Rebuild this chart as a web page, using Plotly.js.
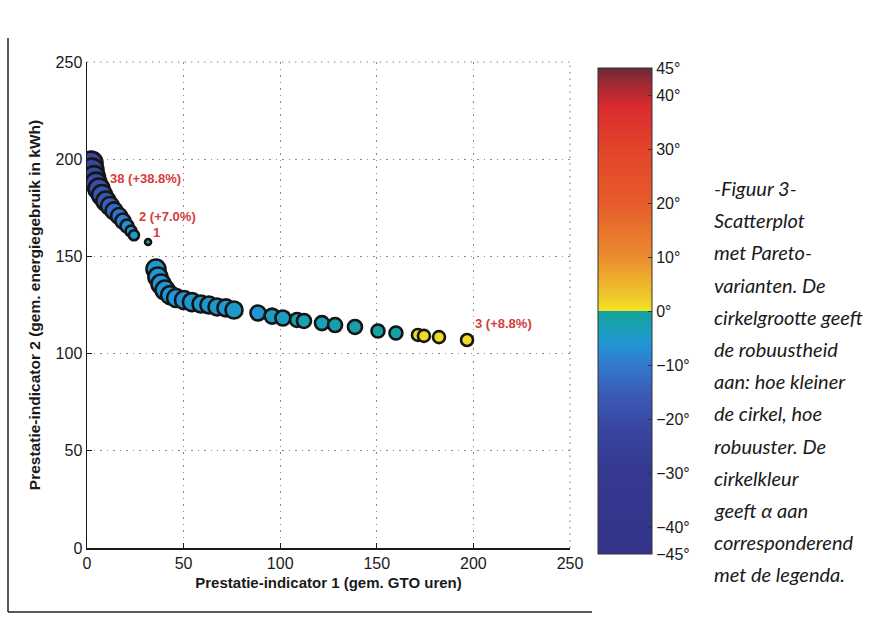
<!DOCTYPE html>
<html>
<head>
<meta charset="utf-8">
<script src="https://cdn.plot.ly/plotly-3.0.1.min.js"></script>
<style>
html,body{margin:0;padding:0;background:#fff;}
#chart{width:874px;height:620px;}
</style>
</head>
<body>
<div id="chart"></div>
<script>
// Prestatie-indicator 1 (gem. GTO uren)
const gto = [2.1, 2.6, 3.6, 4.7, 6.2, 7.8, 9.8, 11.9, 14.0, 16.6, 18.6, 20.7, 22.8, 24.3,
  31.6,
  35.7, 36.7, 38.3, 40.4, 43.0, 46.1, 50.2, 54.3, 59.0, 63.1, 67.3, 71.9, 76.1,
  88.5, 95.8, 101.4, 108.7, 112.3, 121.6, 128.4, 138.7, 150.6, 159.9,
  171.3, 174.4, 182.2, 196.7];
// Prestatie-indicator 2 (gem. energiegebruik in kWh)
const energie = [198.0, 194.4, 190.8, 187.7, 184.7, 181.6, 178.5, 175.9, 173.4, 170.8, 168.2, 165.6, 163.0, 160.9,
  157.4,
  143.5, 139.4, 135.8, 132.7, 130.1, 128.6, 127.6, 126.5, 125.5, 125.0, 124.0, 123.5, 122.4,
  120.9, 119.3, 118.3, 117.3, 116.8, 115.7, 114.7, 113.7, 111.6, 110.6,
  109.6, 109.1, 108.5, 107.0];
// alpha (graden)
const alpha = [-22, -22, -21, -20, -19, -18, -17, -15, -13, -11, -9, -7, -6, -5,
  -2,
  -6, -6, -6, -6, -6, -6, -6, -5, -5, -5, -5, -5, -5,
  -6, -4, -4, -3, -3, -3, -2, -2, -1, -1,
  1, 1, 1, 1];
// robuustheid (cirkelgrootte)
const robuustheid = [23, 23, 22, 21, 21, 20, 19, 18, 17, 16, 15, 13, 11, 10,
  6,
  19, 19, 19, 19, 18, 18, 18, 18, 17, 17, 17, 17, 17,
  15, 15, 15, 14, 14, 14, 14, 14, 13, 13,
  12, 12, 12, 12];

const xTicks = [0, 50, 100, 150, 200, 250];
const yTicks = [0, 50, 100, 150, 200, 250];
const cbTicks = [-45, -40, -30, -20, -10, 0, 10, 20, 30, 40, 45];
const cbTickText = ['−45°', '−40°', '−30°', '−20°', '−10°', '0°', '10°', '20°', '30°', '40°', '45°'];

const labelTexts = ['38 (+38.8%)', '2 (+7.0%)', '1', '3 (+8.8%)'];
const caption = ['-Figuur 3-', 'Scatterplot', 'met Pareto-', 'varianten. De', 'cirkelgrootte geeft',
  'de robuustheid', 'aan: hoe kleiner', 'de cirkel, hoe', 'robuuster. De', 'cirkelkleur',
  'geeft α aan', 'corresponderend', 'met de legenda.'];

// colormap stops (alpha in degrees -> colour)
const cmapAlpha = [-45, -30, -22, -15, -10, -6, -3, -0.01, 0, 3, 10, 20, 30, 38, 42, 45];
const cmapColor = ['#33348a', '#35398f', '#3846a0', '#3b5cb8', '#3279cf', '#2196d4', '#18a0b6', '#14a198',
  '#f2e422', '#f0c52c', '#ea8c2e', '#e65b2b', '#e2452a', '#d82a30', '#a02a33', '#6b2a38'];
const colorscale = cmapAlpha.map((a, i) => [(a + 45) / 90, cmapColor[i]]);

const W = 874, H = 620;
const mL = 87, mR = W - 570, mT = 62, mB = H - 548;
const pw = W - mL - mR, ph = H - mT - mB;
const px2x = p => (p - mL) / pw;
const py2y = p => (H - mB - p) / ph;

const trace = {
  type: 'scatter',
  mode: 'markers',
  x: gto,
  y: energie,
  hoverinfo: 'x+y',
  marker: {
    size: robuustheid,
    color: alpha,
    cmin: -45,
    cmax: 45,
    colorscale: colorscale,
    line: {color: '#151515', width: 2.6},
    opacity: 1,
    colorbar: {
      x: px2x(598), xanchor: 'left',
      y: py2y(311), yanchor: 'middle',
      lenmode: 'pixels', len: 486,
      thicknessmode: 'pixels', thickness: 54,
      xpad: 0, ypad: 0,
      outlinewidth: 1, outlinecolor: '#333',
      borderwidth: 0,
      tickmode: 'array', tickvals: cbTicks, ticktext: cbTickText,
      ticks: 'inside', ticklen: 4, tickcolor: '#333', tickwidth: 1,
      tickfont: {family: 'Liberation Sans, Arial, sans-serif', size: 16, color: '#1a1a1a'}
    }
  },
  showlegend: false
};

const annotations = [
  {x: 10.9, y: 190.3, text: labelTexts[0], xanchor: 'left'},
  {x: 25.9, y: 170.3, text: labelTexts[1], xanchor: 'left'},
  {x: 36.2, y: 162.4, text: labelTexts[2], xanchor: 'center'},
  {x: 199.8, y: 115.7, text: labelTexts[3], xanchor: 'left'}
].map(a => Object.assign({
  xref: 'x', yref: 'y', yanchor: 'middle', showarrow: false,
  font: {family: 'Liberation Sans, Arial, sans-serif', size: 13, color: '#d43c3c', weight: 'bold'}
}, a));

caption.forEach((t, i) => {
  annotations.push({
    xref: 'paper', yref: 'paper', x: px2x(712), y: py2y(188 + i * 32.2), text: '<i>' + t + '</i>',
    showarrow: false, xanchor: 'left', yanchor: 'middle',
    font: {family: 'Lato, Noto Sans, sans-serif', size: 20, color: '#1a1a1a', style: 'italic'}
  });
});

const gridStyle = {gridcolor: '#8a8a8a', griddash: '1.5px,5px', gridwidth: 1.2};

const layout = {
  width: W, height: H,
  margin: {l: mL, r: mR, t: mT, b: mB, pad: 0},
  paper_bgcolor: '#ffffff',
  plot_bgcolor: '#ffffff',
  font: {family: 'Liberation Sans, Arial, sans-serif', color: '#1a1a1a'},
  xaxis: Object.assign({
    range: [0, 250], tickmode: 'array', tickvals: xTicks,
    showline: true, linecolor: '#1a1a1a', linewidth: 1.5, zeroline: false,
    ticks: 'inside', ticklen: 5, tickcolor: '#1a1a1a',
    tickfont: {size: 16, color: '#1a1a1a'},
    title: {text: 'Prestatie-indicator 1 (gem. GTO uren)', standoff: 7,
      font: {size: 15, weight: 'bold', color: '#1a1a1a'}},
    automargin: false
  }, gridStyle),
  yaxis: Object.assign({
    range: [0, 250], tickmode: 'array', tickvals: yTicks,
    showline: true, linecolor: '#1a1a1a', linewidth: 1.5, zeroline: false,
    ticks: 'inside', ticklen: 5, tickcolor: '#1a1a1a',
    tickfont: {size: 16, color: '#1a1a1a'},
    title: {text: 'Prestatie-indicator 2 (gem. energiegebruik in kWh)', standoff: 11,
      font: {size: 15.5, weight: 'bold', color: '#1a1a1a'}},
    automargin: false
  }, gridStyle),
  annotations: annotations,
  shapes: [
    // top and right dotted grid edges
    {type: 'line', xref: 'paper', yref: 'paper', x0: 0, x1: 1, y0: 1, y1: 1,
      line: {color: '#8a8a8a', width: 1.2, dash: '1.5px,5px'}},
    {type: 'line', xref: 'paper', yref: 'paper', x0: 1, x1: 1, y0: 0, y1: 1,
      line: {color: '#8a8a8a', width: 1.2, dash: '1.5px,5px'}},
    // page frame
    {type: 'line', xref: 'paper', yref: 'paper',
      x0: px2x(8), x1: px2x(8), y0: py2y(612), y1: py2y(38),
      line: {color: '#222', width: 1.5}},
    {type: 'line', xref: 'paper', yref: 'paper',
      x0: px2x(8), x1: px2x(592), y0: py2y(612), y1: py2y(612),
      line: {color: '#222', width: 1.5}}
  ]
};

Plotly.newPlot('chart', [trace], layout, {displayModeBar: false, staticPlot: true});
</script>
</body>
</html>
